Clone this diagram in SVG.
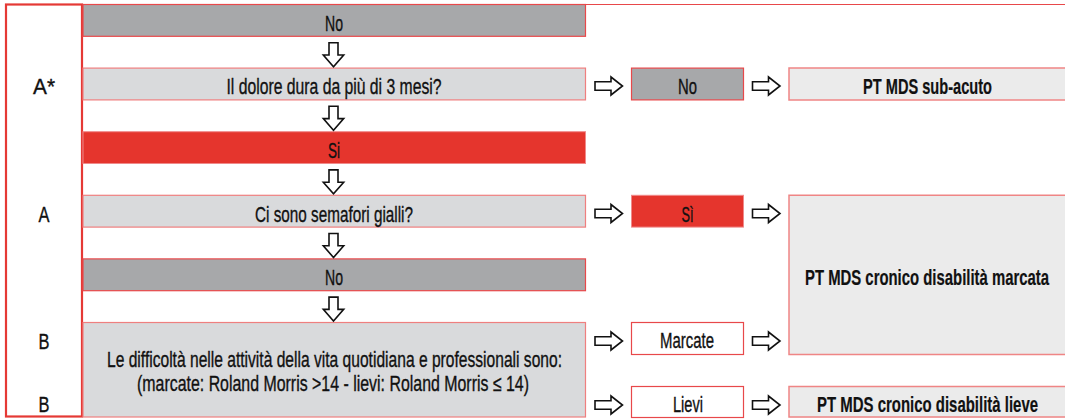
<svg xmlns="http://www.w3.org/2000/svg" width="1065" height="419" viewBox="0 0 1065 419">
<style>
  text { font-family: "Liberation Sans", Arial, sans-serif; font-size: 22px; fill: #111; stroke: #111; stroke-width: 0.35; text-anchor: middle; }
  .b { font-weight: bold; stroke-width: 0.2; }
  .gray { fill: #a7a8aa; stroke: #e8484a; stroke-width: 1.2; }
  .light { fill: #d9dadc; stroke: #ef7f7f; stroke-width: 1.2; }
  .red { fill: #e5352d; stroke: #f08a8a; stroke-width: 1; }
  .resfill { fill: #ebebeb; stroke: none; }
  .resline { fill: none; stroke: #ef8585; stroke-width: 1.5; }
  .wbox { fill: #ffffff; stroke: #e8484a; stroke-width: 1.2; }
  .line { stroke: #e8484a; stroke-width: 1.2; fill: none; }
  .arr { fill: #ffffff; stroke: #111; stroke-width: 1.6; stroke-linejoin: miter; }
</style>
<defs>
  <path id="down" d="M-4.5,0 H4.5 V12.3 H10.2 L0,24 L-10.2,12.3 H-4.5 Z"/>
  <path id="right" d="M0,-4.2 H16 V-9 L27.5,0 L16,9 V4.2 H0 Z"/>
</defs>
<rect width="1065" height="419" fill="#ffffff"/>

<g id="grid">
  <line class="line" x1="83" y1="4.5" x2="1065" y2="4.5"/>
</g>

<g id="left-col">
  <rect x="6" y="4.5" width="76" height="412" fill="#ffffff" stroke="#e53935" stroke-width="2.2"/>
  <text transform="translate(44,94) scale(0.65,1)" textLength="33.8" lengthAdjust="spacingAndGlyphs">A*</text>
  <text transform="translate(44,221.5) scale(0.65,1)" textLength="16.9" lengthAdjust="spacingAndGlyphs">A</text>
  <text transform="translate(44,348.5) scale(0.65,1)" textLength="16.9" lengthAdjust="spacingAndGlyphs">B</text>
  <text transform="translate(44,411.5) scale(0.65,1)" textLength="16.9" lengthAdjust="spacingAndGlyphs">B</text>
</g>

<g id="row-no1">
  <rect class="gray" x="83" y="4.5" width="502.5" height="31.8"/>
  <text transform="translate(334,30.5) scale(0.65,1)" textLength="27.7" lengthAdjust="spacingAndGlyphs">No</text>
</g>
<g id="row-dolore">
  <rect class="light" x="83" y="68.1" width="502.5" height="31.8"/>
  <text transform="translate(334,94) scale(0.65,1)" textLength="330.8" lengthAdjust="spacingAndGlyphs">Il dolore dura da più di 3 mesi?</text>
</g>
<g id="row-si">
  <rect class="red" x="83" y="131.7" width="502.5" height="31.8"/>
  <text transform="translate(334,158) scale(0.65,1)" textLength="18.5" lengthAdjust="spacingAndGlyphs">Si</text>
</g>
<g id="row-semafori">
  <rect class="light" x="83" y="195.3" width="502.5" height="31.8"/>
  <text transform="translate(334,221.5) scale(0.65,1)" textLength="243" lengthAdjust="spacingAndGlyphs">Ci sono semafori gialli?</text>
</g>
<g id="row-no2">
  <rect class="gray" x="83" y="258.9" width="502.5" height="31.8"/>
  <text transform="translate(334,285) scale(0.65,1)" textLength="27.7" lengthAdjust="spacingAndGlyphs">No</text>
</g>
<g id="row-difficolta">
  <rect class="light" x="83" y="322.5" width="502.5" height="94.5"/>
  <text transform="translate(334.5,367.3) scale(0.65,1)" textLength="700" lengthAdjust="spacingAndGlyphs">Le difficoltà nelle attività della vita quotidiana e professionali sono:</text>
  <text transform="translate(333,390.5) scale(0.65,1)" textLength="603" lengthAdjust="spacingAndGlyphs">(marcate: Roland Morris &gt;14 - lievi: Roland Morris ≤ 14)</text>
</g>

<g id="box-no">
  <rect class="gray" x="631.5" y="68.1" width="112" height="31.8"/>
  <text transform="translate(687.5,94) scale(0.65,1)" textLength="29.2" lengthAdjust="spacingAndGlyphs">No</text>
</g>
<g id="res-subacuto">
  <rect class="resfill" x="789" y="68.1" width="276" height="31.8"/>
  <path class="resline" d="M1065,68.1 H789 V99.9 H1065"/>
  <text class="b" transform="translate(927.5,94) scale(0.65,1)" textLength="198.5" lengthAdjust="spacingAndGlyphs">PT MDS sub-acuto</text>
</g>
<g id="box-si">
  <rect class="red" x="631.5" y="195.3" width="112" height="31.8"/>
  <text transform="translate(687.5,221.5) scale(0.65,1)" textLength="18.5" lengthAdjust="spacingAndGlyphs">Sì</text>
</g>
<g id="res-marcata">
  <rect class="resfill" x="789" y="195.3" width="276" height="159.2"/>
  <path class="resline" d="M1065,195.3 H789 V354.5 H1065"/>
  <text class="b" transform="translate(927,284.5) scale(0.65,1)" textLength="375.4" lengthAdjust="spacingAndGlyphs">PT MDS cronico disabilità marcata</text>
</g>
<g id="box-marcate">
  <rect class="wbox" x="631.5" y="322.5" width="112" height="32"/>
  <text transform="translate(687,348) scale(0.65,1)" textLength="83" lengthAdjust="spacingAndGlyphs">Marcate</text>
</g>
<g id="box-lievi">
  <rect class="wbox" x="631.5" y="386.5" width="112" height="31"/>
  <text transform="translate(688,411.5) scale(0.65,1)" textLength="46.2" lengthAdjust="spacingAndGlyphs">Lievi</text>
</g>
<g id="res-lieve">
  <rect class="resfill" x="789" y="386.5" width="276" height="31"/>
  <path class="resline" d="M1065,386.5 H789 V417 H1065"/>
  <text class="b" transform="translate(927.5,411.5) scale(0.65,1)" textLength="340" lengthAdjust="spacingAndGlyphs">PT MDS cronico disabilità lieve</text>
</g>

<g id="connectors">
  <use href="#down" class="arr" x="333.5" y="42.7"/>
  <use href="#down" class="arr" x="333.5" y="106.3"/>
  <use href="#down" class="arr" x="333.5" y="169.9"/>
  <use href="#down" class="arr" x="333.5" y="233.5"/>
  <use href="#down" class="arr" x="333.5" y="297.1"/>
  <use href="#right" class="arr" x="595" y="86"/>
  <use href="#right" class="arr" x="752.5" y="86"/>
  <use href="#right" class="arr" x="595" y="213.5"/>
  <use href="#right" class="arr" x="752.5" y="213.5"/>
  <use href="#right" class="arr" x="595" y="341"/>
  <use href="#right" class="arr" x="752.5" y="341"/>
  <use href="#right" class="arr" x="595" y="405"/>
  <use href="#right" class="arr" x="752.5" y="405"/>
</g>
</svg>
